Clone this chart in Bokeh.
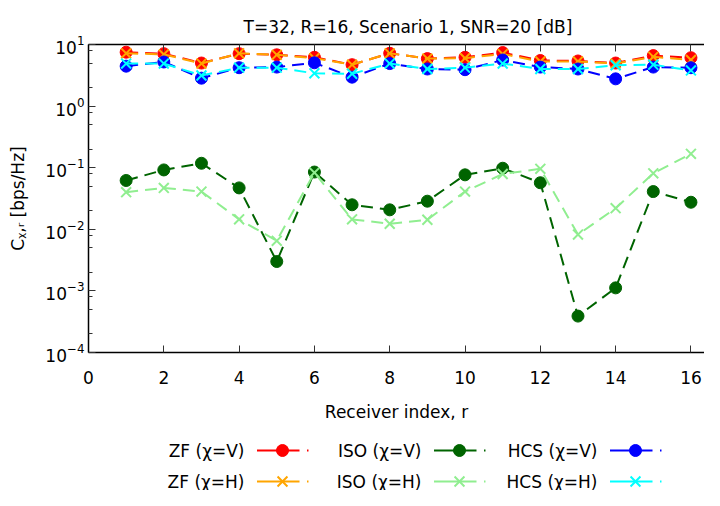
import numpy as np
from bokeh.plotting import figure
from bokeh.models import FixedTicker, LinearAxis, Range1d, CustomJSTickFormatter
from bokeh.layouts import column
from bokeh.embed import file_html
from bokeh.resources import INLINE
from bokeh.core.properties import value

# ---------------- data ----------------
receivers = list(range(1, 17))
zf_v = [7.5, 7.1, 5.0, 7.1, 6.8, 6.2, 4.7, 7.2, 5.9, 6.2, 7.4, 5.5, 5.4, 5.0, 6.6, 6.1]
zf_h = [7.2, 6.9, 4.9, 7.2, 6.8, 6.0, 4.7, 7.2, 5.9, 6.0, 7.0, 5.3, 5.3, 4.9, 6.3, 5.6]
iso_v = [0.062, 0.092, 0.118, 0.047, 0.0030, 0.085, 0.025, 0.0207, 0.0286, 0.0766,
         0.098, 0.057, 0.00039, 0.00112, 0.041, 0.0275]
iso_h = [0.040, 0.047, 0.041, 0.0145, 0.0065, 0.083, 0.0145, 0.0123, 0.0143, 0.041,
         0.079, 0.096, 0.0082, 0.022, 0.081, 0.168]
hcs_v = [4.45, 5.2, 2.84, 4.2, 4.3, 5.05, 2.95, 4.9, 4.0, 3.9, 5.6, 4.3, 4.0, 2.77, 4.3, 4.2]
hcs_h = [4.9, 4.9, 3.14, 4.2, 4.2, 3.4, 3.35, 4.9, 4.0, 4.2, 4.9, 4.0, 4.0, 4.6, 4.7, 3.8]

series_names = ["ZF (χ=V)", "ZF (χ=H)", "ISO (χ=V)", "ISO (χ=H)", "HCS (χ=V)", "HCS (χ=H)"]
series_values = [zf_v, zf_h, iso_v, iso_h, hcs_v, hcs_h]
series_colors = ["#ff0000", "#ffa500", "#006400", "#90ee90", "#0000ff", "#00ffff"]
series_markers = ["circle", "x", "circle", "x", "circle", "x"]

x_ticks = [0, 2, 4, 6, 8, 10, 12, 14, 16]
y_ticks = [1e-4, 1e-3, 1e-2, 1e-1, 1e0, 1e1]
y_minor = [m * d for d in [1e-4, 1e-3, 1e-2, 1e-1, 1e0] for m in (2, 5, 8)]

title_text = "T=32, R=16, Scenario 1, SNR=20 [dB]"
x_label = "Receiver index, r"
y_label = "Cᵪ,ᵣ [bps/Hz]"

FONT = "DejaVu Sans"
FS = "17px"

# ---------------- main plot ----------------
p = figure(width=704, height=430, x_range=Range1d(0, 16.36), y_range=Range1d(1e-4, 10),
           y_axis_type="log", output_backend="svg", toolbar_location=None,
           min_border_left=88, min_border_right=0, min_border_top=44, min_border_bottom=78)
p.outline_line_color = None
p.xgrid.visible = False
p.ygrid.visible = False
p.background_fill_color = "white"

p.title.text = title_text
p.title.align = "left"
p.title.offset = 155
p.title.standoff = 16
p.title.text_font = FONT
p.title.text_font_size = FS
p.title.text_font_style = "normal"
p.title.text_color = "black"

for ax in [p.xaxis[0], p.yaxis[0]]:
    ax.axis_line_width = 1.5
    ax.axis_line_color = "black"
    ax.major_tick_out = 0
    ax.major_tick_in = 7
    ax.minor_tick_out = 0
    ax.minor_tick_in = 4
    ax.major_tick_line_color = "#333333"
    ax.minor_tick_line_color = "#333333"
    ax.major_label_text_font = FONT
    ax.major_label_text_font_size = FS
    ax.major_label_text_color = "black"
    ax.axis_label_text_font = FONT
    ax.axis_label_text_font_size = FS
    ax.axis_label_text_font_style = "normal"
    ax.axis_label_text_color = "black"

p.xaxis.ticker = FixedTicker(ticks=x_ticks)
p.xaxis.major_label_standoff = 18
p.xaxis.axis_label = x_label
p.xaxis.axis_label_standoff = 15

p.yaxis.ticker = FixedTicker(ticks=y_ticks, minor_ticks=y_minor)
p.yaxis.major_label_standoff = 4
p.yaxis.axis_label = y_label
p.yaxis.axis_label_standoff = 14

top = LinearAxis(ticker=FixedTicker(ticks=x_ticks),
                 formatter=CustomJSTickFormatter(code="return ''"),
                 axis_line_width=1.5, axis_line_color="black",
                 major_tick_out=0, major_tick_in=7, minor_tick_out=0, minor_tick_in=0,
                 major_tick_line_color="#333333", major_label_standoff=0,
                 major_label_text_font_size="1px")
p.add_layout(top, "above")

for vals, col, mk in zip(series_values, series_colors, series_markers):
    p.line(receivers, vals, line_color=col, line_width=2, line_dash="12 7")
    if mk == "circle":
        p.scatter(receivers, vals, marker="circle", size=12, fill_color=col, line_color=col)
    else:
        p.scatter(receivers, vals, marker="x", size=14, line_color=col, line_width=2)

# ---------------- legend (label first, then sample, gnuplot style) ----------------
# the column layout aligns this frame with the main frame (page x 88..704)
leg = figure(width=704, height=60, x_range=Range1d(88, 704), y_range=Range1d(490, 430),
             output_backend="svg", toolbar_location=None, x_axis_location=None,
             y_axis_location=None, min_border=0, min_border_left=88)
leg.outline_line_color = None
leg.xgrid.visible = False
leg.ygrid.visible = False

col_right = [244, 421, 597]
row_y = [450, 481]
for i, (name, col, mk) in enumerate(zip(series_names, series_colors, series_markers)):
    c = i // 2
    r = i % 2
    xr = col_right[c]
    yy = row_y[r]
    leg.text([xr], [yy], text=[name], text_align="right", text_baseline="middle",
             text_font=value(FONT), text_font_size=FS, text_color="black")
    leg.segment([xr + 12.5], [yy], [xr + 55], [yy], line_color=col, line_width=2)
    leg.segment([xr + 62.5], [yy], [xr + 64], [yy], line_color=col, line_width=2)
    if mk == "circle":
        leg.scatter([xr + 38], [yy], marker="circle", size=12, fill_color=col, line_color=col)
    else:
        leg.scatter([xr + 38], [yy], marker="x", size=14, line_color=col, line_width=2)

layout = column(p, leg, spacing=0)
open("out.html", "w").write(file_html(layout, INLINE))
